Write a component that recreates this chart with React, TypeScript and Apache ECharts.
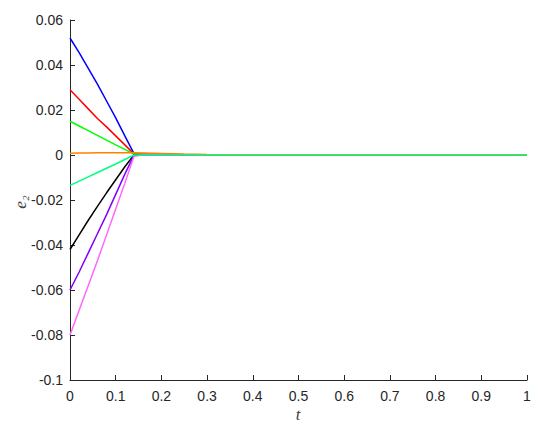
import React, { useEffect, useRef } from "react";
import * as echarts from "echarts";

const tValues = [0, 0.02, 0.04, 0.06, 0.08, 0.1, 0.12, 0.14, 0.16, 0.2, 0.25, 0.3, 0.35, 0.4, 0.5, 0.6, 0.7, 0.8, 0.9, 1];

const blueVals = [0.052, 0.0455, 0.0385, 0.0315, 0.024, 0.0165, 0.0085, 0.0006, 0.0004, 0.0002, 0.0001, 0, 0, 0, 0, 0, 0, 0, 0, 0];
const redVals = [0.029, 0.0248, 0.0205, 0.0162, 0.0125, 0.0085, 0.0045, 0.0005, 0.0003, 0.0002, 0.0001, 0, 0, 0, 0, 0, 0, 0, 0, 0];
const greenVals = [0.015, 0.0129, 0.0108, 0.0087, 0.0066, 0.0045, 0.0025, 0.0004, 0.0003, 0.0002, 0.0001, 0, 0, 0, 0, 0, 0, 0, 0, 0];
const blackVals = [-0.042, -0.0355, -0.029, -0.0228, -0.0168, -0.011, -0.0052, 0, 0, 0, 0, 0, 0, 0, 0, 0, 0, 0, 0, 0];
const purpleVals = [-0.06, -0.052, -0.0435, -0.035, -0.0265, -0.0175, -0.0085, -0.0002, 0, 0, 0, 0, 0, 0, 0, 0, 0, 0, 0, 0];
const magentaVals = [-0.08, -0.069, -0.058, -0.047, -0.0355, -0.024, -0.0125, -0.0005, 0, 0, 0, 0, 0, 0, 0, 0, 0, 0, 0, 0];
const orangeVals = [0.0008, 0.0009, 0.0009, 0.001, 0.001, 0.001, 0.001, 0.001, 0.0009, 0.0007, 0.0004, 0.0002, 0.0001, 0, 0, 0, 0, 0, 0, 0];
const springVals = [-0.0135, -0.0116, -0.0097, -0.0078, -0.0059, -0.004, -0.002, 0, 0, 0, 0, 0, 0, 0, 0, 0, 0, 0, 0, 0];

const seriesDefs = [
  { name: "s1", values: blueVals, color: "#0000ff" },
  { name: "s2", values: redVals, color: "#ff0000" },
  { name: "s3", values: greenVals, color: "#00ff00" },
  { name: "s4", values: blackVals, color: "#000000" },
  { name: "s5", values: purpleVals, color: "#8000ff" },
  { name: "s6", values: magentaVals, color: "#ff66ff" },
  { name: "s7", values: orangeVals, color: "#ff8000" },
  { name: "s8", values: springVals, color: "#00ff80" },
];

const fmt = (v: number) => String(parseFloat(v.toFixed(2)));

export default function App() {
  const ref = useRef<HTMLDivElement>(null);
  useEffect(() => {
    if (!ref.current) return;
    const chart = echarts.init(ref.current, undefined, { renderer: "svg" });
    const labelStyle = { color: "#262626", fontSize: 14, fontFamily: "Liberation Sans, Arial, sans-serif", formatter: fmt };
    chart.setOption({
      animation: false,
      backgroundColor: "#ffffff",
      grid: { left: 70, right: 23, top: 20, bottom: 54, containLabel: false },
      xAxis: {
        type: "value",
        min: 0,
        max: 1,
        interval: 0.1,
        axisLine: { show: true, onZero: false, lineStyle: { color: "#262626", width: 1 } },
        axisTick: { show: true, inside: true, length: 5, lineStyle: { color: "#262626" } },
        splitLine: { show: false },
        axisLabel: { ...labelStyle, margin: 9 },
      },
      yAxis: {
        type: "value",
        min: -0.1,
        max: 0.06,
        interval: 0.02,
        axisLine: { show: true, onZero: false, lineStyle: { color: "#262626", width: 1 } },
        axisTick: { show: true, inside: true, length: 5, lineStyle: { color: "#262626" } },
        splitLine: { show: false },
        axisLabel: { ...labelStyle, margin: 7 },
      },
      graphic: [
        {
          type: "text",
          x: 20,
          y: 202,
          rotation: Math.PI / 2,
          style: { text: "e₂", font: "italic 17px 'Liberation Serif', serif", fill: "#404040", align: "center", verticalAlign: "middle" },
        },
        {
          type: "text",
          x: 298,
          y: 414,
          style: { text: "t", font: "italic 17px 'Liberation Serif', serif", fill: "#404040", align: "center", verticalAlign: "middle" },
        },
      ],
      series: seriesDefs.map((s) => ({
        name: s.name,
        type: "line",
        showSymbol: false,
        symbol: "none",
        data: tValues.map((t, i) => [t, s.values[i]]),
        lineStyle: { color: s.color, width: 1.5 },
        itemStyle: { color: s.color },
      })),
    });
    return () => chart.dispose();
  }, []);
  return <div ref={ref} style={{ width: 550, height: 434, position: "absolute", left: 0, top: 0 }} />;
}
